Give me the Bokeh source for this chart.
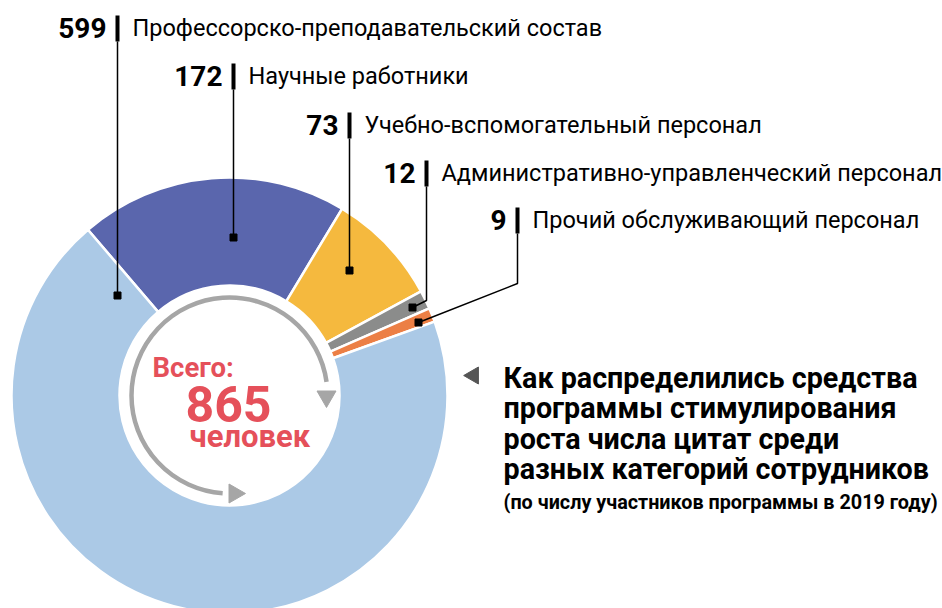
import math
from bokeh.plotting import figure
from bokeh.models import Range1d
from bokeh.core.properties import value
from bokeh.embed import file_html
from bokeh.resources import INLINE

# ---- data ----
categories = [
    "Научные работники",
    "Учебно-вспомогательный персонал",
    "Административно-управленческий персонал",
    "Прочий обслуживающий персонал",
    "Профессорско-преподавательский состав",
]
counts = [172, 73, 12, 9, 599]
colors = ["#5a66ad", "#f5b93e", "#8b8c8b", "#ec7f45", "#abc9e6"]
total = sum(counts)

title_lines = [
    "Как распределились средства",
    "программы стимулирования",
    "роста числа цитат среди",
    "разных категорий сотрудников",
]
subtitle = "(по числу участников программы в 2019 году)"

# ---- layout (pixel coords, y from top) ----
W, H = 942, 608
def Y(py):
    return H - py

CX, CY = 229, Y(395)
R_IN, R_OUT = 110, 218
START_DEG = 130.5

FONT = "Roboto"
RED = "#e5505a"
ARC_GRAY = "#a6a6a6"

p = figure(width=W, height=H, output_backend="svg", toolbar_location=None,
           x_range=Range1d(0, W), y_range=Range1d(0, H), min_border=0)
p.axis.visible = False
p.grid.visible = False
p.outline_line_color = None
p.background_fill_color = "white"
p.border_fill_color = "white"

# wedges
starts, ends = [], []
acc = 0
for c in counts:
    s = math.radians(START_DEG) - acc / total * 2 * math.pi
    e = s - c / total * 2 * math.pi
    starts.append(s)
    ends.append(e)
    acc += c
p.annular_wedge(x=CX, y=CY, inner_radius=R_IN, outer_radius=R_OUT,
                start_angle=starts, end_angle=ends, direction="clock",
                fill_color=colors, line_color="white", line_width=2.5)

# inner gray arc with arrowheads
R_ARC = 98
p.arc(x=CX, y=CY, radius=R_ARC, start_angle=math.radians(8), end_angle=math.radians(266),
      direction="anticlock", line_color=ARC_GRAY, line_width=4.5)
p.scatter(x=[CX + 97, 234], y=[Y(396), Y(493)], marker="triangle", size=19,
          angle=[math.pi, -math.pi / 2], fill_color=ARC_GRAY, line_color=ARC_GRAY)

# labels: order of rows top to bottom
row_order = [4, 0, 1, 2, 3]
bar_x = [117, 233, 349, 426, 517]
baseline = [38, 86, 135, 183, 230]
square_pos = [(117, 295), (233, 237), (349, 270), (412, 307), (418, 322)]
bend = [None, None, None, (426, 300), (517, 283)]
LBL_SHIFT = 11

for k, idx in enumerate(row_order):
    bx = bar_x[k]
    b = baseline[k]
    # thick bar
    p.segment(x0=bx, y0=Y(b - 23), x1=bx, y1=Y(b + 3), line_color="black", line_width=4)
    # leader
    sx, sy = square_pos[k]
    if bend[k] is None:
        p.line(x=[bx, sx], y=[Y(b + 3), Y(sy)], line_color="black", line_width=1.5)
    else:
        ex, ey = bend[k]
        p.line(x=[bx, ex, sx], y=[Y(b + 3), Y(ey), Y(sy)], line_color="black", line_width=1.5)
    p.scatter(x=[sx], y=[Y(sy)], marker="square", size=7, fill_color="black", line_color="black")
    p.text(x=[bx - 11], y=[Y(b - LBL_SHIFT)], text=[str(counts[idx])], text_font=value(FONT),
           text_font_style="bold", text_font_size="28px", text_align="right",
           text_baseline="alphabetic", text_color="black")
    p.text(x=[bx + 15], y=[Y(b - LBL_SHIFT)], text=[categories[idx]], text_font=value(FONT),
           text_font_size="23.5px", text_align="left", text_baseline="alphabetic",
           text_color="black")

# center text
p.text(x=[152], y=[Y(377 - 10)], text=["Всего:"], text_font=value(FONT), text_font_style="bold",
       text_font_size="27.5px", text_align="left", text_baseline="alphabetic", text_color=RED)
p.text(x=[185], y=[Y(418 - 15)], text=[str(total)], text_font=value(FONT), text_font_style="bold",
       text_font_size="50px", text_align="left", text_baseline="alphabetic", text_color=RED)
p.text(x=[189], y=[Y(447 - 11)], text=["человек"], text_font=value(FONT), text_font_style="bold",
       text_font_size="31px", text_align="left", text_baseline="alphabetic", text_color=RED)

# title
p.scatter(x=[473], y=[Y(375)], marker="triangle", size=17, angle=math.pi / 2,
          fill_color="#555555", line_color="#555555")
tb = [386, 416, 447, 477]
for line, b in zip(title_lines, tb):
    p.text(x=[503], y=[Y(b - 9)], text=[line], text_font=value(FONT), text_font_style="bold",
           text_font_size="28.7px", text_align="left", text_baseline="alphabetic",
           text_color="black")
p.text(x=[503], y=[Y(510 - 8)], text=[subtitle], text_font=value(FONT), text_font_style="bold",
       text_font_size="19.8px", text_align="left", text_baseline="alphabetic", text_color="black")

open("out.html", "w").write(file_html(p, INLINE))
